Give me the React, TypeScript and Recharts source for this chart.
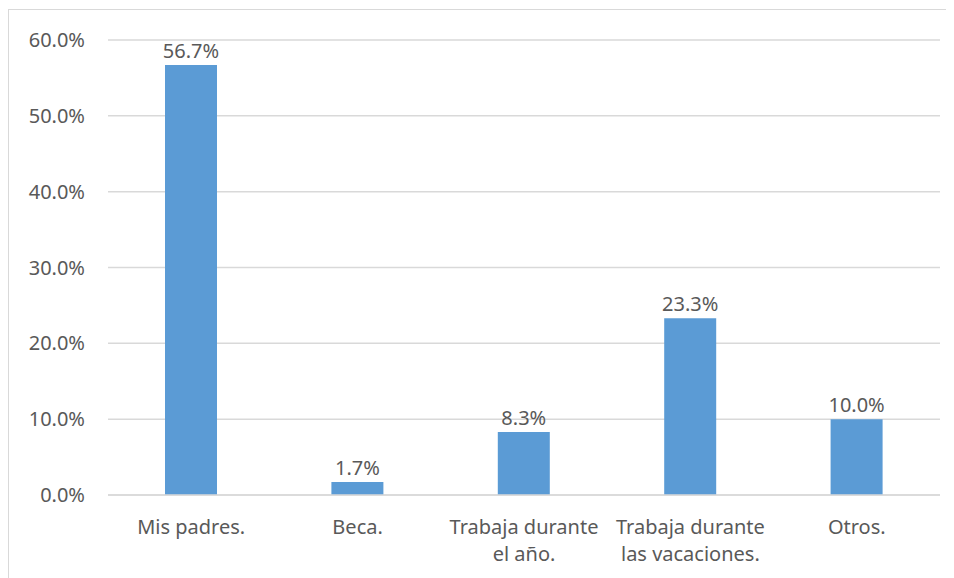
import React from "react";
import { BarChart, Bar, XAxis, YAxis, CartesianGrid, LabelList } from "recharts";

const categories = [
  "Mis padres.",
  "Beca.",
  "Trabaja durante el año.",
  "Trabaja durante las vacaciones.",
  "Otros.",
];
const shares = [56.7, 1.7, 8.3, 23.3, 10.0];
const yTicks = [0, 10, 20, 30, 40, 50, 60];
// line breaks as they appear under the bars
const tickLines: Record<string, string[]> = {
  "Trabaja durante el año.": ["Trabaja durante", "el año."],
  "Trabaja durante las vacaciones.": ["Trabaja durante", "las vacaciones."],
};

const data = categories.map((name, i) => ({ name, value: shares[i] }));

const TEXT = "#595959";
const GRID = "#d9d9d9";
const FONT = "'Noto Sans', 'Open Sans', sans-serif";

const pct = (v: number) => `${v.toFixed(1)}%`;

function CategoryTick(props: any) {
  const { x, y, payload } = props;
  const lines = tickLines[payload.value] ?? [payload.value];
  return (
    <text x={x} y={y + 39} textAnchor="middle" fill={TEXT} fontSize={20} fontFamily={FONT}>
      {lines.map((l, i) => (
        <tspan key={i} x={x} dy={i === 0 ? 0 : 27}>
          {l}
        </tspan>
      ))}
    </text>
  );
}

export default function App() {
  return (
    <div
      style={{
        width: 945,
        height: 569,
        marginTop: 1,
        borderTop: `1px solid ${GRID}`,
        borderLeft: `1px solid ${GRID}`,
        fontFamily: FONT,
        background: "#fff",
      }}
    >
      <BarChart width={945} height={569} data={data} margin={{ top: 30, right: 14, bottom: 0, left: 0 }}>
        <CartesianGrid vertical={false} stroke={GRID} strokeWidth={1.5} />
        <XAxis
          dataKey="name"
          height={84}
          tickSize={0}
          tickMargin={0}
          axisLine={{ stroke: GRID, strokeWidth: 1.5 }}
          tickLine={false}
          interval={0}
          tick={<CategoryTick />}
        />
        <YAxis
          width={99}
          domain={[0, 60]}
          ticks={yTicks}
          tickFormatter={pct}
          tickSize={0}
          tickMargin={23}
          axisLine={false}
          tickLine={false}
          tick={{ fill: TEXT, fontSize: 20, fontFamily: FONT }}
        />
        <Bar dataKey="value" fill="#5b9bd5" barSize={52} isAnimationActive={false}>
          <LabelList
            dataKey="value"
            position="top"
            offset={7}
            formatter={(v: any) => pct(Number(v))}
            style={{ fill: TEXT, fontSize: 20, fontFamily: FONT }}
          />
        </Bar>
      </BarChart>
    </div>
  );
}
